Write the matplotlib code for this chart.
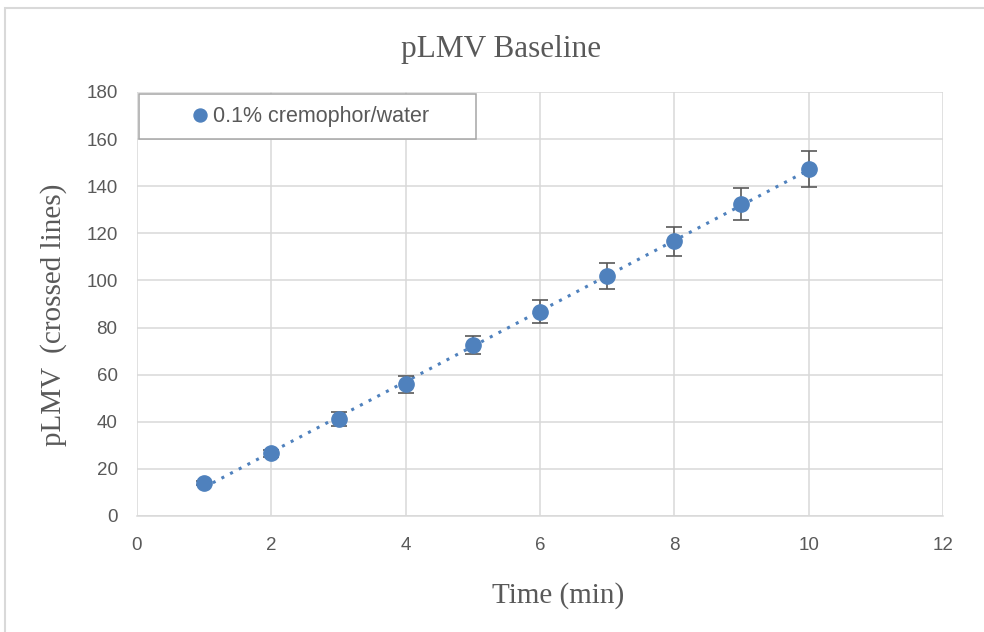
import numpy as np
import matplotlib
matplotlib.use("Agg")
import matplotlib.pyplot as plt
from matplotlib.patches import Rectangle

time_min = [1, 2, 3, 4, 5, 6, 7, 8, 9, 10]
plmv = [14.0, 26.7, 41.0, 56.0, 72.5, 86.8, 102.0, 116.6, 132.4, 147.3]
plmv_err = [1.0, 1.5, 3.0, 3.6, 3.8, 4.8, 5.5, 6.3, 6.8, 7.6]
series_label = "0.1% cremophor/water"
x_ticks = [0, 2, 4, 6, 8, 10, 12]
y_ticks = [0, 20, 40, 60, 80, 100, 120, 140, 160, 180]

blue = "#4f81bd"
txt = "#595959"
serif = ["Liberation Serif", "DejaVu Serif"]
sans = ["Liberation Sans", "DejaVu Sans"]

W, H = 984, 632
fig = plt.figure(figsize=(W / 100, H / 100), dpi=100)
ax = fig.add_axes([137 / W, 1 - 516 / H, (943 - 137) / W, (516 - 92) / H])

# trendline (linear fit)
coef = np.polyfit(time_min, plmv, 1)
xt = np.array([time_min[0], time_min[-1]])
ax.plot(xt, np.polyval(coef, xt), linestyle=(0, (1, 2.2)), color=blue, lw=2.2, zorder=2)

ax.errorbar(time_min, plmv, yerr=plmv_err, fmt="none", ecolor="#595959",
            elinewidth=1.2, capsize=5.5, capthick=1.2, zorder=3)
ax.plot(time_min, plmv, "o", color=blue, markersize=11, zorder=4, label=series_label)

ax.set_xlim(0, 12)
ax.set_ylim(0, 180)
ax.set_xticks(x_ticks)
ax.set_yticks(y_ticks)
ax.grid(True, color="#d9d9d9", lw=1.1)
ax.set_axisbelow(True)
for s in ["top", "right", "left"]:
    ax.spines[s].set_visible(False)
ax.spines["bottom"].set_color("#d9d9d9")
ax.spines["bottom"].set_linewidth(1.1)
ax.tick_params(length=0, labelsize=13.5, labelcolor=txt)
ax.tick_params(axis="x", pad=15)
ax.tick_params(axis="y", pad=14)
for lab in ax.get_xticklabels() + ax.get_yticklabels():
    lab.set_fontfamily(sans)

fig.text(501 / W, 1 - 57 / H, "pLMV Baseline", fontsize=22.5, family=serif,
         color=txt, ha="center", va="baseline")
fig.text(558 / W, 1 - 603 / H, "Time (min)", fontsize=21, family=serif,
         color=txt, ha="center", va="baseline")
fig.text(54 / W, 1 - 315 / H, "pLMV  (crossed lines)", fontsize=21, family=serif,
         color=txt, ha="center", va="center", rotation=90)

# legend box
box = Rectangle((0.002, 0.889), 0.418, 0.106, transform=ax.transAxes,
                facecolor="white", edgecolor="#a6a6a6", lw=1.1, zorder=5)
ax.add_patch(box)
leg = ax.legend(loc="center", bbox_to_anchor=(0.213, 0.942), frameon=False,
                prop={"family": sans, "size": 15.5}, handletextpad=0.05,
                handlelength=1.1, markerscale=0.85, borderaxespad=0)
leg.set_zorder(6)
for t in leg.get_texts():
    t.set_color(txt)

# figure border
fig.patches.append(Rectangle((0.005, -0.01), 1.2, 0.997, transform=fig.transFigure,
                             facecolor="none", edgecolor="#d9d9d9", lw=1.5))

fig.savefig("out.png", dpi=100, facecolor="white")
